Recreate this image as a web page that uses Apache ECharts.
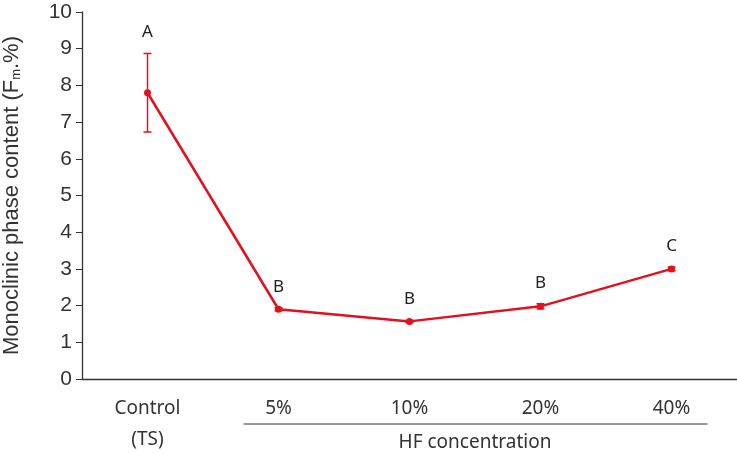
<!DOCTYPE html>
<html>
<head>
<meta charset="utf-8">
<script src="https://cdn.jsdelivr.net/npm/echarts@6/dist/echarts.min.js"></script>
<style>html,body{margin:0;padding:0;background:#fff;}#c{width:737px;height:454px;}</style>
</head>
<body>
<div id="c"></div>
<script>
const categories = ['Control\n(TS)', '5%', '10%', '20%', '40%'];
const means = [7.8, 1.9, 1.57, 1.98, 3.0];
const errors = [1.07, 0.04, 0.03, 0.07, 0.05];
const letters = ['A', 'B', 'B', 'B', 'C'];
const yTicks = [0, 1, 2, 3, 4, 5, 6, 7, 8, 9, 10];
const groupLabel = 'HF concentration';

const RED = '#e3101e';
const chart = echarts.init(document.getElementById('c'));
const errData = means.map((m, i) => [i, m - errors[i], m + errors[i], letters[i]]);

chart.setOption({
  animation: false,
  grid: { left: 82, right: 0, top: 12, bottom: 75, containLabel: false, outerBoundsMode: 'none' },
  xAxis: {
    type: 'category', data: categories, boundaryGap: true,
    axisLine: { lineStyle: { color: '#333', width: 1.3 } },
    axisTick: { alignWithLabel: true, length: 6, lineStyle: { color: '#333' } },
    axisLabel: { fontFamily: 'Noto Sans', fontSize: 19, color: '#333', margin: 14, lineHeight: 31 }
  },
  yAxis: {
    type: 'value', min: 0, max: 10, interval: 1,
    name: 'Monoclinic phase content (F{sub|m}.%)',
    nameLocation: 'middle', nameGap: 59, nameRotate: 90,
    nameTextStyle: {
      fontFamily: 'Liberation Sans', fontSize: 22, color: '#333',
      rich: { sub: { fontSize: 13, verticalAlign: 'bottom', padding: [10, 0, 0, 0], color: '#333', fontFamily: 'Liberation Sans' } }
    },
    axisLine: { show: true, lineStyle: { color: '#333', width: 1.3 } },
    axisTick: { show: true, length: 6, lineStyle: { color: '#333' } },
    splitLine: { show: false },
    axisLabel: { fontFamily: 'Liberation Sans', fontSize: 21, color: '#333', margin: 10,
      formatter: v => yTicks.includes(v) ? String(v) : '' }
  },
  series: [
    {
      type: 'line', data: means, symbol: 'circle', symbolSize: 7,
      lineStyle: { color: RED, width: 2.5 }, itemStyle: { color: RED }, z: 3
    },
    {
      type: 'custom', data: errData, z: 4,
      renderItem: function (params, api) {
        const x = api.coord([api.value(0), api.value(1)])[0];
        const lo = api.coord([api.value(0), api.value(1)])[1];
        const hi = api.coord([api.value(0), api.value(2)])[1];
        const w = 4;
        const st = { stroke: RED, lineWidth: 1.5 };
        return {
          type: 'group',
          children: [
            { type: 'line', shape: { x1: x, y1: lo, x2: x, y2: hi }, style: st },
            { type: 'line', shape: { x1: x - w, y1: lo, x2: x + w, y2: lo }, style: st },
            { type: 'line', shape: { x1: x - w, y1: hi, x2: x + w, y2: hi }, style: st },
            { type: 'text', style: { text: letters[params.dataIndex], x: x, y: hi - 21,
              textAlign: 'center', textVerticalAlign: 'middle', fontFamily: 'Noto Sans', fontSize: 17, fill: '#222' } }
          ]
        };
      }
    }
  ]
});

const x1 = chart.convertToPixel({ xAxisIndex: 0 }, categories[1]);
const x4 = chart.convertToPixel({ xAxisIndex: 0 }, categories[4]);
chart.setOption({
  graphic: [
    { type: 'line', shape: { x1: x1 - 35, y1: 424, x2: x4 + 36, y2: 424 }, style: { stroke: '#333', lineWidth: 1 } },
    { type: 'text', style: { text: groupLabel, x: (x1 + x4) / 2, y: 443, textAlign: 'center', textVerticalAlign: 'middle',
      fontFamily: 'Noto Sans', fontSize: 19, fill: '#333' } }
  ]
});
</script>
</body>
</html>
